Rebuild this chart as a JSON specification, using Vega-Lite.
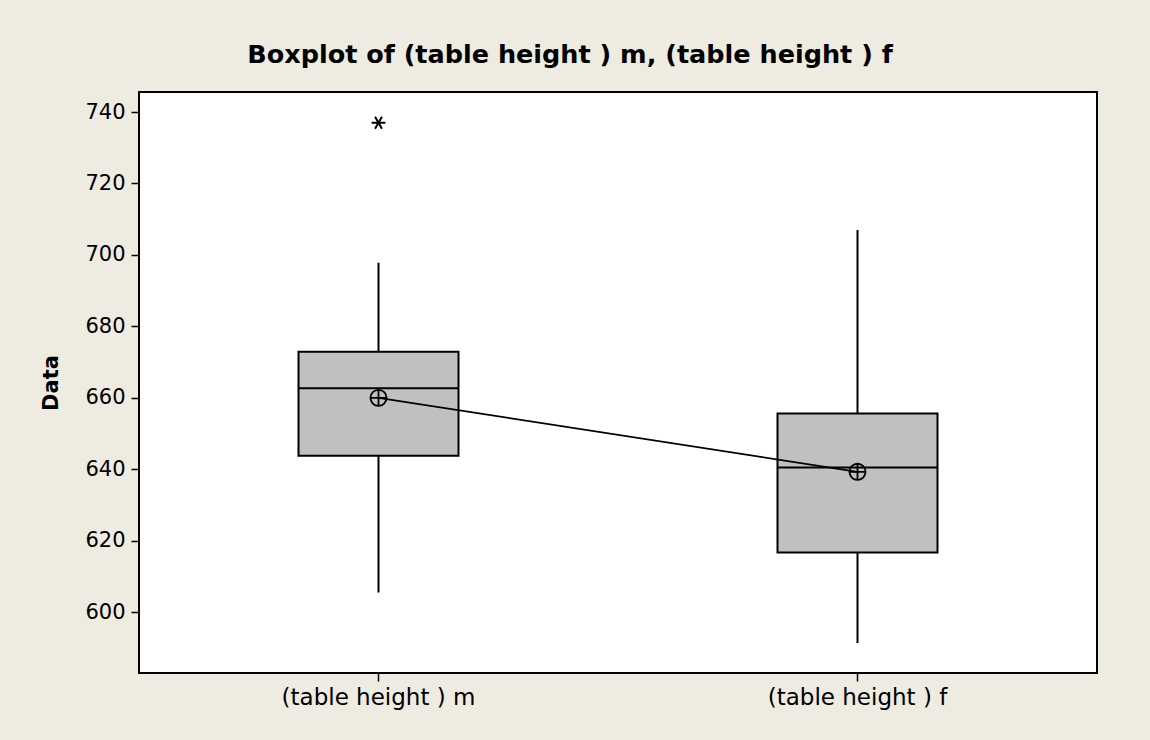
{
  "$schema": "https://vega.github.io/schema/vega-lite/v6.json",
  "autosize": {"type": "none"},
  "padding": {"left": 139, "top": 92, "right": 53, "bottom": 67},
  "width": 958,
  "height": 581,
  "background": "#EEEBE1",
  "title": {
    "text": "Boxplot of (table height ) m, (table height ) f",
    "font": "DejaVu Sans",
    "fontSize": 25.5,
    "fontWeight": "bold",
    "color": "black",
    "anchor": "middle",
    "dx": -48,
    "baseline": "alphabetic",
    "offset": 4
  },
  "config": {
    "view": {"fill": "white", "stroke": "black", "strokeWidth": 2},
    "axis": {
      "labelFont": "DejaVu Sans",
      "titleFont": "DejaVu Sans",
      "labelColor": "black",
      "titleColor": "black",
      "tickColor": "black",
      "tickWidth": 1.5,
      "tickSize": 8,
      "domain": false,
      "grid": false,
      "labelLimit": 0
    }
  },
  "datasets": {
    "stats": [
      {"group": "(table height ) m", "lo": 605.5, "q1": 643.8, "median": 662.7, "q3": 672.9, "hi": 697.8, "mean": 660.0},
      {"group": "(table height ) f", "lo": 591.4, "q1": 616.7, "median": 640.5, "q3": 655.6, "hi": 707.0, "mean": 639.3}
    ],
    "outliers": [
      {"group": "(table height ) m", "value": 737.0}
    ]
  },
  "data": {"name": "stats"},
  "encoding": {
    "x": {
      "field": "group",
      "type": "nominal",
      "sort": ["(table height ) m", "(table height ) f"],
      "scale": {"type": "band", "paddingInner": 0, "paddingOuter": 0},
      "axis": {"title": null, "labelAngle": 0, "labelFontSize": 23, "labelPadding": 5, "labelLimit": 0}
    }
  },
  "layer": [
    {
      "mark": {"type": "rule", "color": "black", "strokeWidth": 2},
      "encoding": {
        "y": {
          "field": "lo",
          "type": "quantitative",
          "scale": {"domain": [583, 745.6], "nice": false, "zero": false},
          "axis": {
            "title": "Data",
            "values": [600, 620, 640, 660, 680, 700, 720, 740],
            "labelFontSize": 21,
            "labelPadding": 6,
            "titleFontSize": 21,
            "titleFontWeight": "bold",
            "titleX": -88,
            "titleY": 290.5,
            "titleAlign": "center",
            "titleBaseline": "middle",
            "titleAngle": -90
          }
        },
        "y2": {"field": "hi"}
      }
    },
    {
      "mark": {"type": "bar", "size": 160, "fill": "#C0C0C0", "stroke": "black", "strokeWidth": 2},
      "encoding": {
        "y": {"field": "q1", "type": "quantitative"},
        "y2": {"field": "q3"}
      }
    },
    {
      "mark": {"type": "tick", "size": 160, "thickness": 2, "color": "black", "opacity": 1, "orient": "horizontal"},
      "encoding": {
        "y": {"field": "median", "type": "quantitative"}
      }
    },
    {
      "mark": {"type": "line", "color": "black", "strokeWidth": 1.8},
      "encoding": {
        "y": {"field": "mean", "type": "quantitative"}
      }
    },
    {
      "mark": {"type": "point", "shape": "circle", "filled": false, "stroke": "black", "strokeWidth": 1.8, "size": 260, "opacity": 1},
      "encoding": {
        "y": {"field": "mean", "type": "quantitative"}
      }
    },
    {
      "mark": {"type": "point", "shape": "M-1,0L1,0M0,-1L0,1", "filled": false, "stroke": "black", "strokeWidth": 1.8, "size": 260, "opacity": 1},
      "encoding": {
        "y": {"field": "mean", "type": "quantitative"}
      }
    },
    {
      "data": {"name": "outliers"},
      "mark": {"type": "point", "shape": "M-1,0L1,0M-0.5,-0.87L0.5,0.87M-0.5,0.87L0.5,-0.87", "filled": false, "stroke": "black", "strokeWidth": 2, "size": 190, "opacity": 1},
      "encoding": {
        "y": {"field": "value", "type": "quantitative"}
      }
    }
  ]
}
